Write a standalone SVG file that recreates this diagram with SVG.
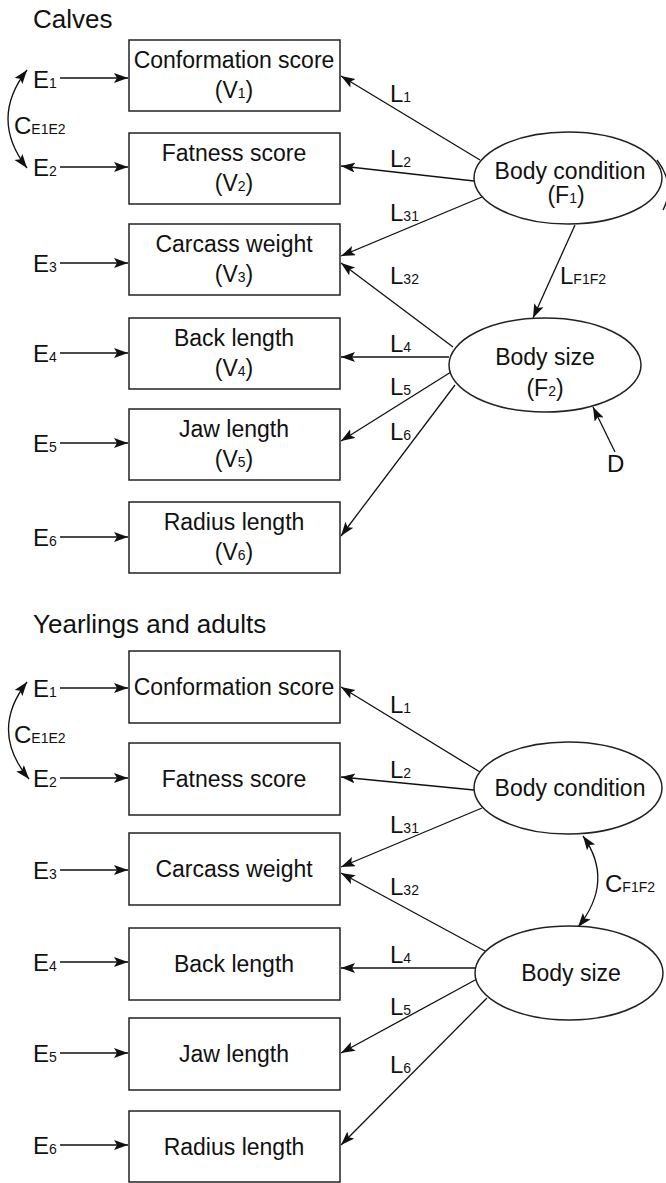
<svg xmlns="http://www.w3.org/2000/svg" width="666" height="1183" viewBox="0 0 666 1183">
<style>
text{font-family:"Liberation Sans",Arial,sans-serif;fill:#111}
.t{font-size:26px}
.n{font-size:23px;text-anchor:middle}
.lb{font-size:24px}
.s{font-size:14px}
.box{fill:#fff;stroke:#222;stroke-width:1.5}
.ell{fill:#fff;stroke:#222;stroke-width:1.5}
.c{stroke:#111;stroke-width:1.3;fill:none;marker-end:url(#ah)}
.cc{stroke:#111;stroke-width:1.3;fill:none;marker-end:url(#ah);marker-start:url(#ah)}
</style>
<defs>
<marker id="ah" markerUnits="userSpaceOnUse" markerWidth="15" markerHeight="11" refX="14" refY="5" orient="auto-start-reverse">
<path d="M0,0 L14,5 L0,10 L3,5 z" fill="#111"/>
</marker>
</defs>

<text class="t" x="33" y="28">Calves</text>
<text class="t" x="33" y="633">Yearlings and adults</text>

<g id="connectors">
<!-- top section -->
<line class="c" x1="60" y1="78" x2="128" y2="78"/>
<line class="c" x1="60" y1="167" x2="128" y2="167"/>
<line class="c" x1="60" y1="263" x2="128" y2="263"/>
<line class="c" x1="60" y1="353" x2="128" y2="353"/>
<line class="c" x1="60" y1="443" x2="128" y2="443"/>
<line class="c" x1="60" y1="537" x2="128" y2="537"/>
<path class="cc" d="M27,70 Q-11,119 27,168"/>
<line class="c" x1="480" y1="160" x2="341" y2="76"/>
<line class="c" x1="474" y1="181" x2="341" y2="166"/>
<line class="c" x1="482" y1="197" x2="341" y2="256"/>
<line class="c" x1="453" y1="347" x2="341" y2="263"/>
<line class="c" x1="449" y1="357" x2="341" y2="357"/>
<line class="c" x1="451" y1="372" x2="341" y2="441"/>
<line class="c" x1="455" y1="385" x2="341" y2="536"/>
<line class="c" x1="575" y1="225" x2="533" y2="318"/>
<line class="c" x1="615" y1="452" x2="593" y2="407"/>
<path d="M657,160 Q676,185 663,210" stroke="#111" stroke-width="1.3" fill="none"/>
<!-- bottom section -->
<line class="c" x1="60" y1="688" x2="128" y2="688"/>
<line class="c" x1="60" y1="778" x2="128" y2="778"/>
<line class="c" x1="60" y1="870" x2="128" y2="870"/>
<line class="c" x1="60" y1="962" x2="128" y2="962"/>
<line class="c" x1="60" y1="1053" x2="128" y2="1053"/>
<line class="c" x1="60" y1="1145" x2="128" y2="1145"/>
<path class="cc" d="M27,682 Q-11,731 29,779"/>
<line class="c" x1="480" y1="772" x2="341" y2="687"/>
<line class="c" x1="474" y1="790" x2="341" y2="777"/>
<line class="c" x1="482" y1="808" x2="341" y2="867"/>
<line class="c" x1="485" y1="951" x2="341" y2="873"/>
<line class="c" x1="475" y1="968" x2="341" y2="968"/>
<line class="c" x1="477" y1="979" x2="341" y2="1053"/>
<line class="c" x1="487" y1="998" x2="341" y2="1145"/>
<path class="cc" d="M583,836 Q615,881 578,927"/>
</g>

<g id="labels">
<text class="lb" x="33" y="88">E<tspan class="s">1</tspan></text>
<text class="lb" x="33" y="176">E<tspan class="s">2</tspan></text>
<text class="lb" x="33" y="272">E<tspan class="s">3</tspan></text>
<text class="lb" x="33" y="362">E<tspan class="s">4</tspan></text>
<text class="lb" x="33" y="452">E<tspan class="s">5</tspan></text>
<text class="lb" x="33" y="546">E<tspan class="s">6</tspan></text>
<text class="lb" x="14" y="134">C<tspan class="s">E1E2</tspan></text>
<text class="lb" x="390" y="102">L<tspan class="s">1</tspan></text>
<text class="lb" x="390" y="167">L<tspan class="s">2</tspan></text>
<text class="lb" x="390" y="221">L<tspan class="s">31</tspan></text>
<text class="lb" x="390" y="284">L<tspan class="s">32</tspan></text>
<text class="lb" x="390" y="352">L<tspan class="s">4</tspan></text>
<text class="lb" x="390" y="395">L<tspan class="s">5</tspan></text>
<text class="lb" x="390" y="440">L<tspan class="s">6</tspan></text>
<text class="lb" x="560" y="284">L<tspan class="s">F1F2</tspan></text>
<text class="lb" x="607" y="472">D</text>

<text class="lb" x="33" y="697">E<tspan class="s">1</tspan></text>
<text class="lb" x="33" y="787">E<tspan class="s">2</tspan></text>
<text class="lb" x="33" y="879">E<tspan class="s">3</tspan></text>
<text class="lb" x="33" y="971">E<tspan class="s">4</tspan></text>
<text class="lb" x="33" y="1062">E<tspan class="s">5</tspan></text>
<text class="lb" x="33" y="1154">E<tspan class="s">6</tspan></text>
<text class="lb" x="14" y="743">C<tspan class="s">E1E2</tspan></text>
<text class="lb" x="390" y="713">L<tspan class="s">1</tspan></text>
<text class="lb" x="390" y="778">L<tspan class="s">2</tspan></text>
<text class="lb" x="390" y="833">L<tspan class="s">31</tspan></text>
<text class="lb" x="390" y="895">L<tspan class="s">32</tspan></text>
<text class="lb" x="390" y="963">L<tspan class="s">4</tspan></text>
<text class="lb" x="390" y="1015">L<tspan class="s">5</tspan></text>
<text class="lb" x="390" y="1073">L<tspan class="s">6</tspan></text>
<text class="lb" x="605" y="892">C<tspan class="s">F1F2</tspan></text>
</g>

<!-- top nodes -->
<g id="v1"><rect class="box" x="129" y="40" width="211" height="71"/><text class="n" x="234" y="68">Conformation score</text><text class="n" x="234" y="98">(V<tspan class="s">1</tspan>)</text></g>
<g id="v2"><rect class="box" x="129" y="133" width="211" height="71"/><text class="n" x="234" y="161">Fatness score</text><text class="n" x="234" y="191">(V<tspan class="s">2</tspan>)</text></g>
<g id="v3"><rect class="box" x="129" y="224" width="211" height="71"/><text class="n" x="234" y="252">Carcass weight</text><text class="n" x="234" y="282">(V<tspan class="s">3</tspan>)</text></g>
<g id="v4"><rect class="box" x="129" y="318" width="211" height="71"/><text class="n" x="234" y="346">Back length</text><text class="n" x="234" y="376">(V<tspan class="s">4</tspan>)</text></g>
<g id="v5"><rect class="box" x="129" y="409" width="211" height="71"/><text class="n" x="234" y="437">Jaw length</text><text class="n" x="234" y="467">(V<tspan class="s">5</tspan>)</text></g>
<g id="v6"><rect class="box" x="129" y="502" width="211" height="71"/><text class="n" x="234" y="530">Radius length</text><text class="n" x="234" y="560">(V<tspan class="s">6</tspan>)</text></g>
<g id="f1"><ellipse class="ell" cx="568" cy="178" rx="94" ry="46"/><text class="n" x="570" y="179">Body condition</text><text class="n" x="566" y="203">(F<tspan class="s">1</tspan>)</text></g>
<g id="f2"><ellipse class="ell" cx="545" cy="365" rx="96" ry="47"/><text class="n" x="545" y="365">Body size</text><text class="n" x="545" y="396">(F<tspan class="s">2</tspan>)</text></g>

<!-- bottom nodes -->
<g id="b1"><rect class="box" x="129" y="651" width="211" height="72"/><text class="n" x="234" y="695">Conformation score</text></g>
<g id="b2"><rect class="box" x="129" y="743" width="211" height="72"/><text class="n" x="234" y="787">Fatness score</text></g>
<g id="b3"><rect class="box" x="129" y="833" width="211" height="72"/><text class="n" x="234" y="877">Carcass weight</text></g>
<g id="b4"><rect class="box" x="129" y="928" width="211" height="72"/><text class="n" x="234" y="972">Back length</text></g>
<g id="b5"><rect class="box" x="129" y="1018" width="211" height="72"/><text class="n" x="234" y="1062">Jaw length</text></g>
<g id="b6"><rect class="box" x="129" y="1111" width="211" height="71"/><text class="n" x="234" y="1155">Radius length</text></g>
<g id="bf1"><ellipse class="ell" cx="568" cy="788" rx="94" ry="46"/><text class="n" x="570" y="796">Body condition</text></g>
<g id="bf2"><ellipse class="ell" cx="569" cy="973" rx="94" ry="47"/><text class="n" x="571" y="981">Body size</text></g>
</svg>
